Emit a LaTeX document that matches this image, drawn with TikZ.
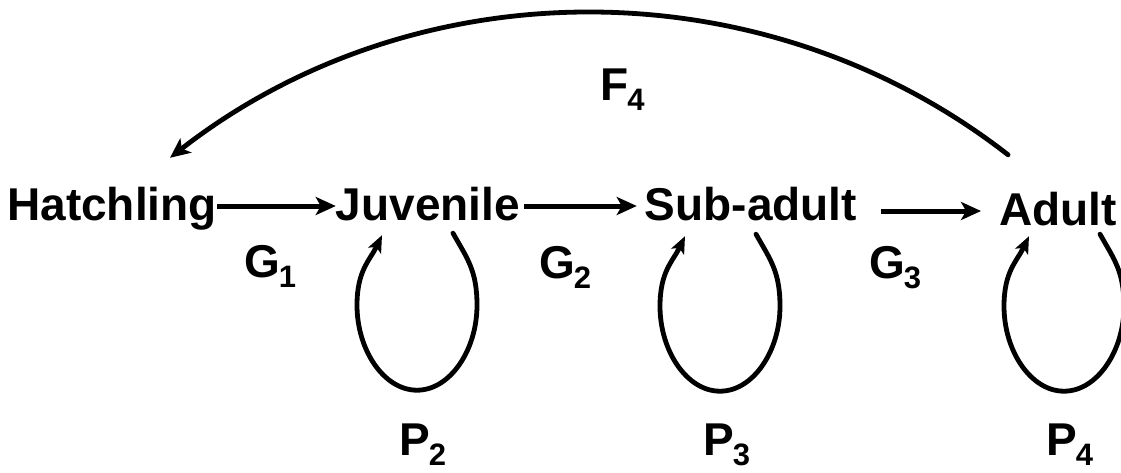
\documentclass[tikz,border=0pt]{standalone}
\usepackage{fontspec}
\setmainfont{Liberation Sans}
\usetikzlibrary{arrows.meta}
\newcommand{\ratelbl}[2]{#1\kern-1pt\raisebox{-10pt}{\fontsize{31}{31}\selectfont #2}}

\begin{document}
\begin{tikzpicture}[x=1pt, y=-1pt,
	every node/.style={font=\fontsize{46}{55}\selectfont\bfseries, inner sep=0pt},
	stage/.style={anchor=base, text height=33pt, text depth=5pt},
	rate/.style={anchor=base west},
	flow/.style={line width=5pt, -{Stealth[length=20pt,width=18pt,inset=5pt]}},
	loopflow/.style={line width=4.8pt, line cap=round, -{Stealth[length=17pt,width=14pt,inset=4pt]}}]
	\useasboundingbox (0,0) rectangle (1121,472);
	% stages
	\node[stage] (hatch) at (112,220) {Hatchling};
	\node[stage] (juv) at (428,220) {Juvenile};
	\node[stage] (sub) at (751,220) {Sub-adult};
	\node[stage] (adult) at (1058,225) {Adult};
	% growth
	\draw[flow] (hatch.east) -- (juv.west);
	\draw[flow, shorten <=4pt, shorten >=8pt] (juv.east) -- (sub.west);
	\draw[flow, shorten <=24pt, shorten >=18pt] (sub.east |- adult.west) -- (adult.west);
	% stay in stage
	\foreach \st/\dx/\dy in {juv/25/8, sub/5/9, adult/42/4}
		\draw[loopflow] ([xshift=\dx pt, yshift=-\dy pt]\st.south) .. controls +(14,25) and +(0,-35) .. ++(24,72) .. controls +(0,45) and +(33,0) .. ++(-60,85) .. controls +(-33,0) and +(0,45) .. ++(-60,-85) .. controls +(0,-35) and +(-12,25) .. ++(25,-70);
	% fecundity
	\draw[loopflow, -{Stealth[length=20pt,width=18pt,inset=5pt]}] ([xshift=9pt,yshift=37pt]adult.north west) .. controls +(-245,-191) and +(245,-191) .. ([xshift=58pt,yshift=29pt]hatch.north);
	% rates
	\node[rate] (g1) at (244,277) {\ratelbl{G}{1}};
	\node[rate] (g2) at (539,278) {\ratelbl{G}{2}};
	\node[rate] (g3) at (869,278) {\ratelbl{G}{3}};
	\node[rate] (p2) at (399,455) {\ratelbl{P}{2}};
	\node[rate] (p3) at (703,455) {\ratelbl{P}{3}};
	\node[rate] (p4) at (1046,455) {\ratelbl{P}{4}};
	\node[rate] (f4) at (600,100) {\ratelbl{F}{4}};
\end{tikzpicture}
\end{document}
